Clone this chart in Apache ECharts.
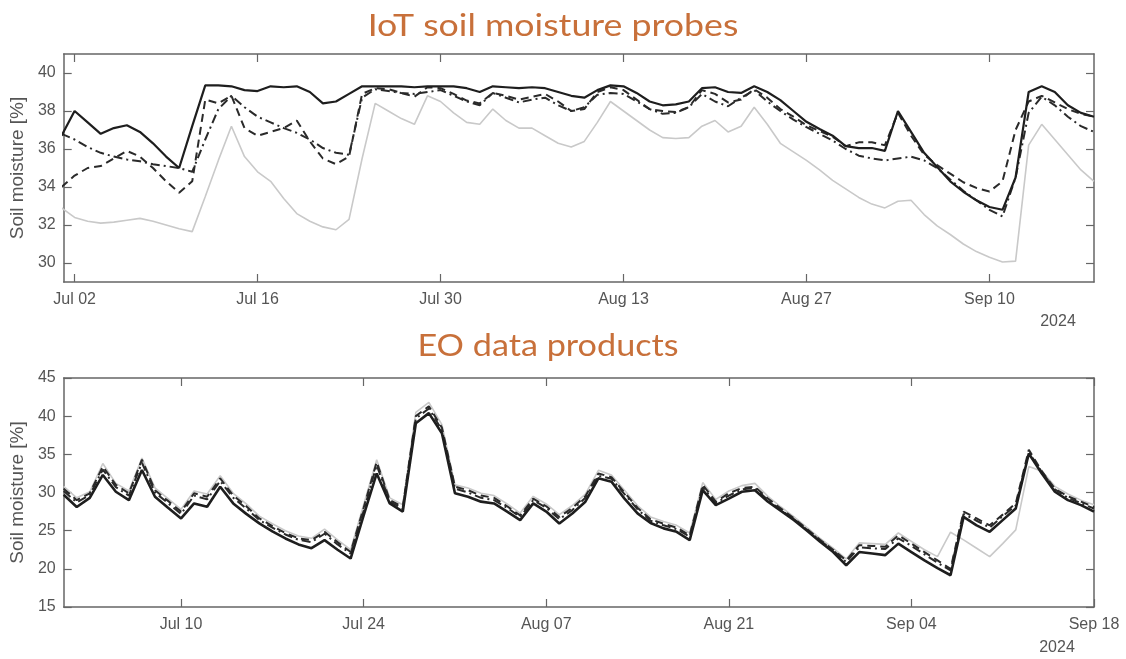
<!DOCTYPE html>
<html><head><meta charset="utf-8">
<script src="https://cdn.jsdelivr.net/npm/echarts@6/dist/echarts.min.js"></script>
<style>html,body{margin:0;padding:0;background:#fff}#c{width:1126px;height:659px}</style>
</head><body><div id="c"></div>
<script>
// ---------- DATA ----------
const iotStart = '2024-07-01';   // daily values
const iotSolid = [36.7,38.0,37.4,36.8,37.1,37.25,36.9,36.3,35.6,35.0,
  37.2,39.35,39.35,39.3,39.1,39.05,39.3,39.25,39.3,39.0,
  38.4,38.5,38.9,39.3,39.3,39.3,39.3,39.25,39.3,39.3,
  39.3,39.2,39.0,39.3,39.25,39.2,39.25,39.2,39.0,38.8,
  38.7,39.1,39.35,39.3,38.95,38.5,38.3,38.35,38.5,39.2,
  39.25,39.0,38.95,39.3,39.0,38.57,38.0,37.43,37.05,36.7,
  36.15,36.05,36.05,35.9,38.0,36.9,35.8,35.05,34.3,33.75,
  33.3,32.95,32.8,34.5,39.0,39.3,39.0,38.3,37.9,37.7];
const iotDashed = [34.0,34.6,35.0,35.1,35.5,35.9,35.6,35.0,34.3,33.7,
  34.3,38.6,38.4,38.8,37.1,36.7,36.9,37.1,37.5,36.4,
  35.5,35.2,35.6,38.9,39.2,39.15,38.95,38.75,39.25,39.2,
  38.9,38.55,38.4,38.95,38.8,38.6,38.75,38.9,38.5,38.0,
  38.1,39.0,39.25,39.1,38.6,38.1,38.0,37.95,38.2,39.1,
  38.9,38.45,38.6,39.15,38.7,38.1,37.7,37.25,36.95,36.65,
  36.15,36.35,36.35,36.2,37.9,36.7,35.7,35.15,34.7,34.25,
  33.95,33.76,34.3,37.0,38.5,38.8,38.45,38.1,37.85,37.7];
const iotDashDot = [36.8,36.5,36.1,35.8,35.6,35.45,35.35,35.2,35.1,35.0,
  34.8,36.5,38.1,38.8,38.2,37.7,37.4,37.1,36.85,36.5,
  36.05,35.8,35.7,38.7,39.15,39.05,38.95,38.9,39.0,39.1,
  38.8,38.5,38.3,38.95,38.7,38.45,38.6,38.7,38.3,38.0,
  38.2,38.85,38.95,38.9,38.5,38.1,37.85,37.9,38.2,38.9,
  38.5,38.25,38.7,39.1,38.5,38.0,37.55,37.15,36.8,36.45,
  36.0,35.65,35.5,35.4,35.5,35.6,35.4,35.0,34.4,33.8,
  33.3,32.8,32.45,34.5,37.9,38.75,38.3,37.7,37.2,36.9];
const iotGray = [32.9,32.4,32.2,32.1,32.15,32.25,32.35,32.2,32.0,31.8,
  31.65,33.5,35.4,37.2,35.6,34.8,34.3,33.4,32.6,32.2,
  31.9,31.75,32.3,35.5,38.4,38.0,37.6,37.3,38.8,38.5,
  37.9,37.4,37.3,38.1,37.5,37.1,37.1,36.7,36.3,36.1,
  36.4,37.4,38.5,38.0,37.5,37.0,36.6,36.55,36.6,37.2,
  37.5,36.9,37.2,38.2,37.3,36.3,35.85,35.4,34.9,34.35,
  33.9,33.45,33.1,32.9,33.25,33.3,32.55,31.95,31.5,31.0,
  30.6,30.3,30.05,30.1,36.2,37.3,36.5,35.7,34.9,34.3];

const eoStart = '2024-07-01';    // daily values
const eoSolid = [29.7,28.1,29.3,32.3,30.1,29.0,32.95,29.45,28.0,26.6,
  28.57,28.13,30.76,28.57,27.2,25.95,24.9,23.98,23.2,22.7,
  23.76,22.5,21.35,27.0,32.5,28.57,27.5,39.08,40.4,37.77,
  29.9,29.45,28.8,28.57,27.5,26.38,28.57,27.5,25.95,27.26,
  28.8,31.86,31.42,29.2,27.26,26.0,25.3,24.85,23.76,30.3,
  28.35,29.2,30.1,30.3,28.8,27.6,26.38,25.0,23.54,22.2,
  20.47,22.2,22.0,21.8,23.3,22.2,21.1,20.1,19.16,26.8,
  25.7,24.85,26.38,27.9,35.1,32.5,30.1,29.0,28.35,27.5];
const eoDashed = [30.5,29.0,29.9,33.4,31.0,29.9,34.3,30.3,28.9,27.5,
  29.9,29.45,31.85,29.6,28.2,26.6,25.6,24.7,24.0,23.76,
  24.85,23.5,22.2,28.0,34.0,29.0,28.1,40.0,41.3,38.5,
  30.76,30.3,29.6,29.3,28.2,27.0,29.2,28.2,26.8,28.0,
  29.5,32.5,32.0,30.0,28.0,26.5,25.9,25.4,24.4,31.0,
  28.8,29.9,30.6,30.76,29.2,27.9,26.6,25.2,23.8,22.5,
  21.1,23.1,23.0,22.9,24.4,23.3,22.2,21.1,20.0,27.5,
  26.6,25.7,27.1,28.57,35.6,32.8,30.5,29.5,28.8,28.1];
const eoDashDot = [30.2,28.7,29.7,33.0,30.7,29.6,33.9,30.0,28.6,27.2,
  29.6,29.1,31.5,29.3,27.9,26.4,25.4,24.5,23.8,23.5,
  24.6,23.2,22.0,27.6,33.6,28.8,27.9,39.7,41.0,38.2,
  30.5,30.0,29.3,29.0,28.0,26.8,29.0,28.0,26.5,27.7,
  29.3,32.2,31.8,29.8,27.8,26.3,25.7,25.2,24.2,30.7,
  28.6,29.6,30.4,30.6,29.0,27.7,26.5,25.1,23.7,22.4,
  20.9,22.8,22.7,22.6,24.0,23.0,21.9,20.8,19.8,27.2,
  26.3,25.4,26.9,28.3,35.3,32.7,30.4,29.3,28.6,27.9];
const eoGray = [30.8,29.3,30.1,33.8,31.2,30.2,34.5,30.6,29.2,27.8,
  30.2,29.8,32.2,29.9,28.5,26.9,25.9,25.0,24.3,24.0,
  25.2,23.8,22.5,28.4,34.3,29.3,28.4,40.5,41.8,38.9,
  31.0,30.6,29.9,29.6,28.5,27.3,29.5,28.5,27.1,28.3,
  29.8,32.9,32.3,30.3,28.3,26.8,26.2,25.7,24.7,31.3,
  29.1,30.2,30.9,31.2,29.5,28.1,26.8,25.4,24.0,22.7,
  21.3,23.4,23.3,23.2,24.7,23.6,22.5,21.6,24.8,23.8,
  22.7,21.6,23.3,25.1,33.4,32.8,30.8,29.8,29.0,28.4];

const iotTicks = ['2024-07-02','2024-07-16','2024-07-30','2024-08-13','2024-08-27','2024-09-10'];
const eoTicks  = ['2024-07-10','2024-07-24','2024-08-07','2024-08-21','2024-09-04','2024-09-18'];
const iotYTicks = [30,32,34,36,38,40];
const eoYTicks  = [15,20,25,30,35,40,45];
const titles = ['IoT soil moisture probes','EO data products'];
const yName = 'Soil moisture [%]';
const yearLabel = '2024';

// ---------- BUILD ----------
const DAY = 86400000;
const T = s => Date.parse(s + 'T00:00:00Z');
const pairs = (start, vals) => vals.map((v, i) => [T(start) + i * DAY, v]);
const MON = ['Jan','Feb','Mar','Apr','May','Jun','Jul','Aug','Sep','Oct','Nov','Dec'];
const fmt = v => { const d = new Date(v); return MON[d.getUTCMonth()] + ' ' + String(d.getUTCDate()).padStart(2,'0'); };

const AX = '#666', LBL = '#555', FONT = 'Liberation Sans';
function xAx(g, min, max, ticks, bottom) {
  const tv = ticks.map(T);
  return {
    type: 'value', gridIndex: g, min, max, position: bottom ? 'bottom' : 'top',
    axisLine: { show: true, onZero: false, lineStyle: { color: AX, width: 1.5 } },
    axisTick: { show: true, inside: true, length: 8, customValues: tv, lineStyle: { color: AX, width: 1.2 } },
    axisLabel: { show: bottom, customValues: tv, formatter: fmt, color: LBL, fontSize: 16, fontFamily: FONT, margin: 10 },
    splitLine: { show: false }
  };
}
function yAx(g, min, max, ticks, left) {
  return {
    type: 'value', gridIndex: g, min, max, position: left ? 'left' : 'right',
    axisLine: { show: true, onZero: false, lineStyle: { color: AX, width: 1.5 } },
    axisTick: { show: true, inside: true, length: 8, customValues: ticks, lineStyle: { color: AX, width: 1.2 } },
    axisLabel: { show: left, customValues: ticks, color: LBL, fontSize: 16, fontFamily: FONT, margin: 8 },
    splitLine: { show: false },
    name: left ? yName : '', nameLocation: 'middle', nameGap: 32,
    nameTextStyle: { color: LBL, fontSize: 19, fontFamily: FONT }
  };
}
const styles = [
  { color: '#c9c9c9', width: 1.6, type: 'solid' },
  { color: '#2a2a2a', width: 2, type: [9, 4, 2, 4] },
  { color: '#2a2a2a', width: 2, type: [8, 5] },
  { color: '#1e1e1e', width: 2.2, type: 'solid' }
];
function mk(data, st, xi, yi) {
  return { type: 'line', data, xAxisIndex: xi, yAxisIndex: yi, showSymbol: false, symbol: 'none',
    lineStyle: st, clip: true, silent: true, animation: false };
}
const topMin = T('2024-07-01') + 4 * 3600000, topMax = T('2024-09-18');
const botMin = T('2024-07-01'), botMax = T('2024-09-18');

const option = {
  animation: false,
  grid: [
    { left: 63, right: 32, top: 54, height: 228 },
    { left: 63, right: 32, top: 378, height: 229 }
  ],
  xAxis: [
    xAx(0, topMin, topMax, iotTicks, true), xAx(0, topMin, topMax, iotTicks, false),
    xAx(1, botMin, botMax, eoTicks, true), xAx(1, botMin, botMax, eoTicks, false)
  ],
  yAxis: [
    yAx(0, 29, 41, iotYTicks, true), yAx(0, 29, 41, iotYTicks, false),
    yAx(1, 15, 45, eoYTicks, true), yAx(1, 15, 45, eoYTicks, false)
  ],
  series: [
    mk(pairs(iotStart, iotGray), styles[0], 0, 0),
    mk(pairs(iotStart, iotDashDot), styles[1], 0, 0),
    mk(pairs(iotStart, iotDashed), styles[2], 0, 0),
    mk(pairs(iotStart, iotSolid), styles[3], 0, 0),
    mk(pairs(eoStart, eoGray), styles[0], 2, 2),
    mk(pairs(eoStart, eoDashDot), styles[1], 2, 2),
    mk(pairs(eoStart, eoDashed), styles[2], 2, 2),
    mk(pairs(eoStart, eoSolid), Object.assign({}, styles[3], { width: 2.6 }), 2, 2)
  ],
  graphic: [
    { type: 'text', x: 553, y: 26, scaleX: 1.19, style: { text: titles[0], font: '30px Lato', fill: '#c8703a', align: 'center', verticalAlign: 'middle' } },
    { type: 'text', x: 548, y: 346, scaleX: 1.14, style: { text: titles[1], font: '30px Lato', fill: '#c8703a', align: 'center', verticalAlign: 'middle' } },
    { type: 'text', x: 1058, y: 322, style: { text: yearLabel, font: '16px "Liberation Sans"', fill: LBL, align: 'center', verticalAlign: 'middle' } },
    { type: 'text', x: 1057, y: 648, style: { text: yearLabel, font: '16px "Liberation Sans"', fill: LBL, align: 'center', verticalAlign: 'middle' } }
  ]
};
const chart = echarts.init(document.getElementById('c'), null, { renderer: 'canvas' });
chart.setOption(option);
</script></body></html>
